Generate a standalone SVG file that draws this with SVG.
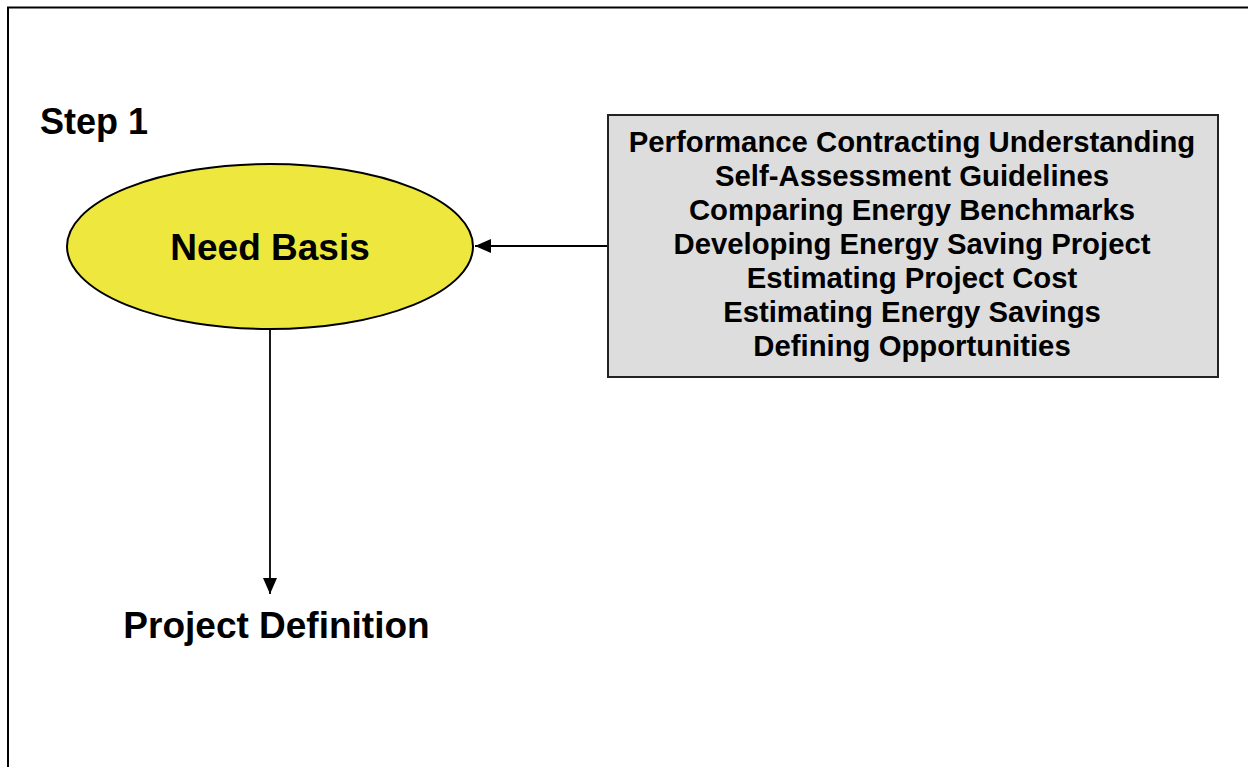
<svg xmlns="http://www.w3.org/2000/svg" width="1248" height="767" viewBox="0 0 1248 767">
<style>
.t{font-family:"Liberation Sans",Arial,sans-serif;font-weight:bold;fill:#000}
.big{font-size:37px}
.step{font-size:36px}
.list{font-size:29.3px}
.conn{stroke:#000;stroke-width:1.8;fill:none}
</style>
<defs>
<marker id="ah2" viewBox="0 0 16 14" refX="16" refY="7" markerWidth="16" markerHeight="14" markerUnits="userSpaceOnUse" orient="auto">
<path d="M0,0 L16,7 L0,14 Z" fill="#000"/>
</marker>
</defs>
<rect width="1248" height="767" fill="#fff"/>
<path d="M8,767 V7.5 H1248" fill="none" stroke="#000" stroke-width="2"/>
<g id="step1"><text class="t step" x="40" y="134">Step 1</text></g>
<g id="need-basis">
<ellipse cx="270" cy="246.5" rx="203" ry="82.5" fill="#EEE83E" stroke="#000" stroke-width="2"/>
<text class="t big" x="270" y="260" text-anchor="middle">Need Basis</text>
</g>
<g id="inputs">
<rect x="608" y="115" width="610" height="262" fill="#DDDDDD" stroke="#222" stroke-width="2"/>
<g class="t list" text-anchor="middle">
<text x="912" y="152">Performance Contracting Understanding</text>
<text x="912" y="186">Self-Assessment Guidelines</text>
<text x="912" y="220">Comparing Energy Benchmarks</text>
<text x="912" y="254">Developing Energy Saving Project</text>
<text x="912" y="288">Estimating Project Cost</text>
<text x="912" y="322">Estimating Energy Savings</text>
<text x="912" y="356">Defining Opportunities</text>
</g>
</g>
<g id="project-definition"><text class="t big" x="276.5" y="638" text-anchor="middle">Project Definition</text></g>
<g id="connectors">
<line class="conn" x1="607" y1="246" x2="475" y2="246" marker-end="url(#ah2)"/>
<line class="conn" x1="270" y1="329" x2="270" y2="594" marker-end="url(#ah2)"/>
</g>
</svg>
